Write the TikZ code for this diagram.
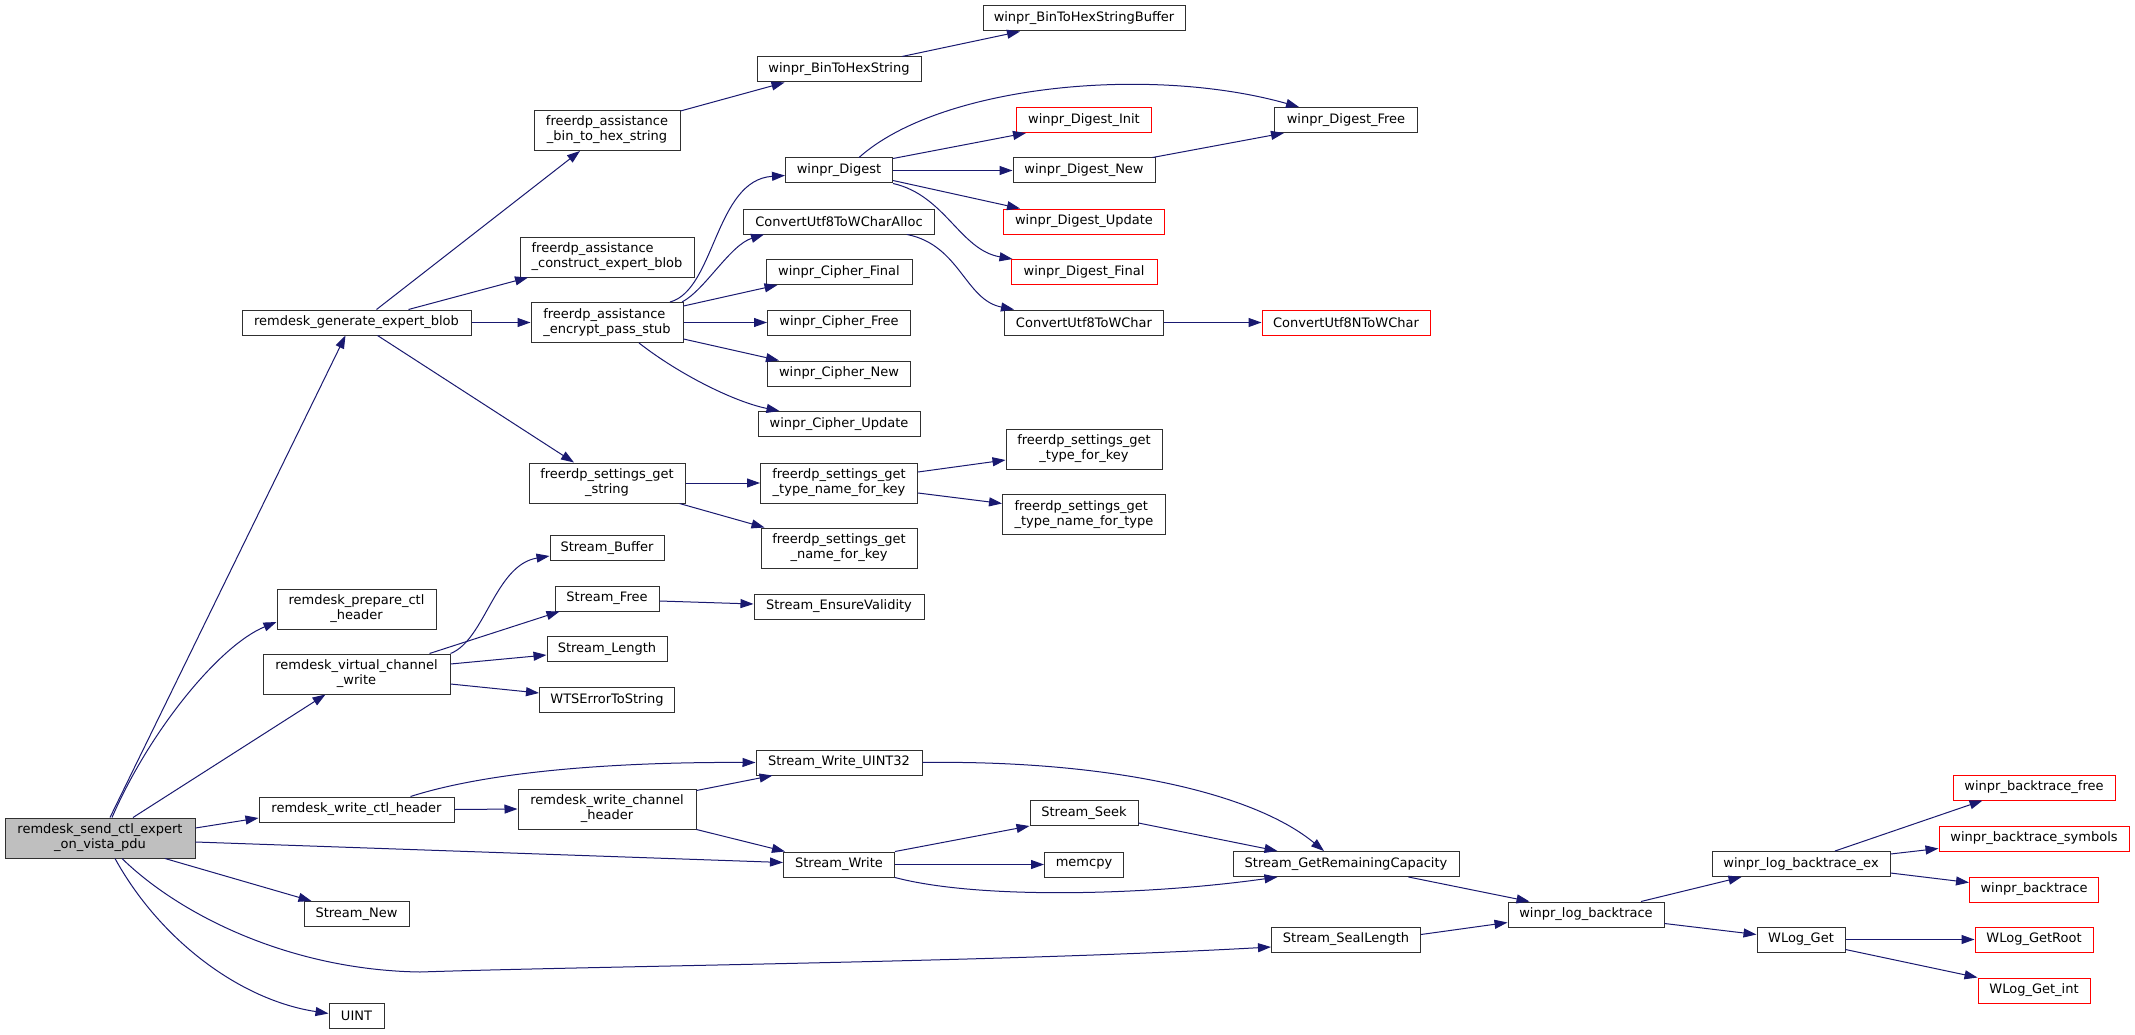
\documentclass[tikz,border=0pt]{standalone}
\usepackage{fontspec}
\setmainfont{DejaVu Sans}
\usetikzlibrary{arrows.meta,calc}
\definecolor{eblue}{RGB}{25,25,112}
\definecolor{focusgray}{RGB}{191,191,191}
\definecolor{nodeborder}{RGB}{48,48,48}
\newcommand\fnfont{\fontsize{13}{15}\selectfont}
\newcommand\twol[2]{\begin{tabular}{@{}l@{}}#1\\\multicolumn{1}{@{}c@{}}{#2}\end{tabular}}
\begin{document}
\begin{tikzpicture}[x=1pt,y=-1pt,
  fn/.style={draw=nodeborder, line width=1pt, fill=white, inner sep=0pt, font=\fnfont, minimum height=25pt},
  fntwo/.style={fn, minimum height=40pt},
  trunc/.style={draw=red},
  focus/.style={fill=focusgray},
  edgeln/.style={draw=eblue, line width=1pt, -{Triangle[length=13pt,width=9pt]}}]
\useasboundingbox[fill=white] (0,0) rectangle (2135,1035);

% column 1
\node[fntwo, focus, minimum width=190pt] (main) at (100,838) {\twol{remdesk\_send\_ctl\_expert}{\_on\_vista\_pdu}};
% column 2
\node[fn, minimum width=229pt] (gen) at (356.5,322.5) {remdesk\_generate\_expert\_blob};
\node[fntwo, minimum width=159pt] (prep) at (356.5,609) {\twol{remdesk\_prepare\_ctl}{\_header}};
\node[fntwo, minimum width=187pt] (vcw) at (356.5,674) {\twol{remdesk\_virtual\_channel}{\_write}};
\node[fn, minimum width=195pt] (wch) at (356.5,809.5) {remdesk\_write\_ctl\_header};
\node[fn, minimum width=105pt] (snew) at (356.5,914) {Stream\_New};
\node[fn, minimum width=55pt] (uint) at (356.5,1015.5) {UINT};
% column 3
\node[fntwo, minimum width=146pt] (b2h) at (607,130.5) {\twol{freerdp\_assistance}{\_bin\_to\_hex\_string}};
\node[fntwo, minimum width=174pt] (cons) at (607,257) {\twol{freerdp\_assistance}{\_construct\_expert\_blob}};
\node[fntwo, minimum width=152pt] (enc) at (607,322.5) {\twol{freerdp\_assistance}{\_encrypt\_pass\_stub}};
\node[fntwo, minimum width=156pt] (sgs) at (607,483) {\twol{freerdp\_settings\_get}{\_string}};
\node[fn, minimum width=114pt] (sbuf) at (607,548) {Stream\_Buffer};
\node[fn, minimum width=104pt] (sfree) at (607,598.5) {Stream\_Free};
\node[fn, minimum width=120pt] (slen) at (607,649) {Stream\_Length};
\node[fn, minimum width=135pt] (wts) at (607,700) {WTSErrorToString};
\node[fntwo, minimum width=178pt] (wchan) at (607,809) {\twol{remdesk\_write\_channel}{\_header}};
% column 4
\node[fn, minimum width=164pt] (b2hs) at (839,69.5) {winpr\_BinToHexString};
\node[fn, minimum width=107pt] (dig) at (839,170.5) {winpr\_Digest};
\node[fn, minimum width=191pt] (alloc) at (839,221.5) {ConvertUtf8ToWCharAlloc};
\node[fn, minimum width=146pt] (cfin) at (839,272) {winpr\_Cipher\_Final};
\node[fn, minimum width=143pt] (cfree) at (839,322.5) {winpr\_Cipher\_Free};
\node[fn, minimum width=143pt] (cnew) at (839,373.5) {winpr\_Cipher\_New};
\node[fn, minimum width=162pt] (cupd) at (839,424) {winpr\_Cipher\_Update};
\node[fntwo, minimum width=157pt] (tnk) at (839,483) {\twol{freerdp\_settings\_get}{\_type\_name\_for\_key}};
\node[fntwo, minimum width=156pt] (nfk) at (839,548) {\twol{freerdp\_settings\_get}{\_name\_for\_key}};
\node[fn, minimum width=170pt] (sev) at (839,606.5) {Stream\_EnsureValidity};
\node[fn, minimum width=166pt] (swu) at (839,762.5) {Stream\_Write\_UINT32};
\node[fn, minimum width=111pt] (sw) at (839,864.5) {Stream\_Write};
% column 5
\node[fn, minimum width=202pt] (b2hsb) at (1084,18.5) {winpr\_BinToHexStringBuffer};
\node[fn, trunc, minimum width=135pt] (dinit) at (1084,120) {winpr\_Digest\_Init};
\node[fn, minimum width=142pt] (dnew) at (1084,170.5) {winpr\_Digest\_New};
\node[fn, trunc, minimum width=161pt] (dupd) at (1084,221.5) {winpr\_Digest\_Update};
\node[fn, trunc, minimum width=146pt] (dfin) at (1084,272) {winpr\_Digest\_Final};
\node[fn, minimum width=159pt] (cu8) at (1084,322.5) {ConvertUtf8ToWChar};
\node[fntwo, minimum width=156pt] (tfk) at (1084,449) {\twol{freerdp\_settings\_get}{\_type\_for\_key}};
\node[fntwo, minimum width=163pt] (tnt) at (1084,514.5) {\twol{freerdp\_settings\_get}{\_type\_name\_for\_type}};
\node[fn, minimum width=108pt] (seek) at (1084,813) {Stream\_Seek};
\node[fn, minimum width=79pt] (memcpy) at (1084,864.5) {memcpy};
% column 6
\node[fn, minimum width=143pt] (dfree) at (1346,120) {winpr\_Digest\_Free};
\node[fn, trunc, minimum width=168pt] (cn8) at (1346,322.5) {ConvertUtf8NToWChar};
\node[fn, minimum width=226pt] (grc) at (1346,864) {Stream\_GetRemainingCapacity};
\node[fn, minimum width=149pt] (seal) at (1346,939.5) {Stream\_SealLength};
% columns 7-9
\node[fn, minimum width=156pt] (wlb) at (1586,914.5) {winpr\_log\_backtrace};
\node[fn, minimum width=178pt] (wlbe) at (1801,864) {winpr\_log\_backtrace\_ex};
\node[fn, minimum width=88pt] (wlg) at (1801,939.5) {WLog\_Get};
\node[fn, trunc, minimum width=162pt] (btf) at (2034,787.5) {winpr\_backtrace\_free};
\node[fn, trunc, minimum width=190pt] (bts) at (2034,838.5) {winpr\_backtrace\_symbols};
\node[fn, trunc, minimum width=129pt] (bt) at (2034,889.5) {winpr\_backtrace};
\node[fn, trunc, minimum width=118pt] (grt) at (2034,939.5) {WLog\_GetRoot};
\node[fn, trunc, minimum width=112pt] (gint) at (2034,990.5) {WLog\_Get\_int};

% edges from main
\draw[edgeln] ($(main.north)+(10,0)$) -- ($(gen.south)+(-11,0)$);
\draw[edgeln] ($(main.north)+(12,0)$) .. controls (150,730) and (220,645) .. ($(prep.west)+(0,13)$);
\draw[edgeln] ($(main.north)+(33,0)$) -- ($(vcw.south)+(-31,0)$);
\draw[edgeln] ($(main.east)+(0,-10)$) -- ($(wch.west)+(0,8.5)$);
\draw[edgeln] ($(main.east)+(0,4)$) -- ($(sw.west)+(0,-2)$);
\draw[edgeln] ($(main.south)+(65,0)$) -- ($(snew.north)+(-45,0)$);
\draw[edgeln] ($(main.south)+(22,0)$) .. controls (180,915) and (290,970) .. (420,972)
   .. controls (600,966) and (1000,962) .. ($(seal.west)+(0,7.5)$);
\draw[edgeln] ($(main.south)+(15,0)$) .. controls (160,940) and (240,1000) .. ($(uint.west)+(0,-2)$);
% edges from generate_expert_blob
\draw[edgeln] ($(gen.north)+(20,0)$) -- ($(b2h.south)+(-27,0)$);
\draw[edgeln] ($(gen.north)+(52,0)$) -- ($(cons.south)+(-79,0)$);
\draw[edgeln] (gen.east) -- (enc.west);
\draw[edgeln] ($(gen.south)+(21,0)$) -- ($(sgs.north)+(-33,0)$);
% bin to hex
\draw[edgeln] ($(b2h.north east)+(0,1)$) -- ($(b2hs.south west)+(28,0)$);
\draw[edgeln] ($(b2hs.north)+(63,0)$) -- ($(b2hsb.south)+(-64,0)$);
% encrypt pass stub
\draw[edgeln] ($(enc.north)+(63,0)$) .. controls (715,290) and (715,180) .. ($(dig.west)+(0,5)$);
\draw[edgeln] ($(enc.north)+(75,0)$) .. controls (705,290) and (730,245) .. ($(alloc.south west)+(21,0)$);
\draw[edgeln] ($(enc.north east)+(0,4)$) -- ($(cfin.south west)+(12,0)$);
\draw[edgeln] (enc.east) -- (cfree.west);
\draw[edgeln] ($(enc.south east)+(0,-4)$) -- ($(cnew.north west)+(12,0)$);
\draw[edgeln] ($(enc.south)+(32,0)$) .. controls (680,375) and (735,402) .. ($(cupd.north west)+(22,0)$);
% digest
\draw[edgeln] ($(dig.north)+(20,0)$) .. controls (940,85) and (1150,65) .. ($(dfree.north west)+(25,0)$);
\draw[edgeln] ($(dig.north east)+(0,1)$) -- ($(dinit.south west)+(10,0)$);
\draw[edgeln] (dig.east) -- (dnew.west);
\draw[edgeln] ($(dig.east)+(0,10)$) -- ($(dupd.north west)+(17,0)$);
\draw[edgeln] (dig.south east) .. controls (945,195) and (960,250) .. ($(dfin.north west)+(2,0)$);
\draw[edgeln] ($(dnew.north east)+(-3,0)$) -- ($(dfree.south west)+(10,0)$);
% utf8
\draw[edgeln] ($(alloc.south)+(68,0)$) .. controls (960,245) and (965,300) .. ($(cu8.north west)+(10,0)$);
\draw[edgeln] (cu8.east) -- (cn8.west);
% settings
\draw[edgeln] (sgs.east) -- (tnk.west);
\draw[edgeln] ($(sgs.south east)+(-6,0)$) -- ($(nfk.north west)+(4,0)$);
\draw[edgeln] ($(tnk.east)+(0,-11)$) -- ($(tfk.west)+(0,11)$);
\draw[edgeln] ($(tnk.east)+(0,10)$) -- ($(tnt.west)+(0,-11)$);
% virtual channel write
\draw[edgeln] (vcw.north east) .. controls (485,640) and (495,565) .. ($(sbuf.west)+(0,8)$);
\draw[edgeln] ($(vcw.north)+(73,0)$) -- ($(sfree.south west)+(5,0)$);
\draw[edgeln] ($(vcw.east)+(0,-10)$) -- ($(slen.west)+(0,6)$);
\draw[edgeln] ($(vcw.east)+(0,10)$) -- ($(wts.west)+(0,-7)$);
\draw[edgeln] ($(sfree.east)+(0,2.5)$) -- ($(sev.west)+(0,-2.5)$);
% write ctl header
\draw[edgeln] ($(wch.north)+(54,0)$) .. controls (500,768) and (640,762) .. (swu.west);
\draw[edgeln] (wch.east) -- (wchan.west);
\draw[edgeln] ($(wchan.north east)+(0,2)$) -- ($(swu.south west)+(17,0)$);
\draw[edgeln] (wchan.south east) -- ($(sw.north west)+(2,0)$);
% stream write
\draw[edgeln] (sw.north east) -- (seek.south west);
\draw[edgeln] (sw.east) -- (memcpy.west);
\draw[edgeln] (sw.south east) .. controls (980,900) and (1150,895) .. ($(grc.south west)+(45,0)$);
\draw[edgeln] ($(seek.east)+(0,10)$) -- ($(grc.north west)+(45,0)$);
\draw[edgeln] (swu.east) .. controls (1100,760) and (1250,790) .. ($(grc.north)+(-22,0)$);
% backtrace
\draw[edgeln] ($(grc.south east)+(-51,0)$) -- ($(wlb.north west)+(22,0)$);
\draw[edgeln] ($(seal.east)+(0,-5)$) -- ($(wlb.west)+(0,8)$);
\draw[edgeln] ($(wlb.north)+(55,0)$) -- ($(wlbe.south west)+(30,0)$);
\draw[edgeln] ($(wlb.east)+(0,9)$) -- ($(wlg.west)+(0,-5)$);
\draw[edgeln] ($(wlbe.north)+(34,0)$) -- ($(btf.south west)+(30,0)$);
\draw[edgeln] ($(wlbe.north east)+(0,3)$) -- ($(bts.west)+(0,10)$);
\draw[edgeln] ($(wlbe.east)+(0,9)$) -- ($(bt.west)+(0,-7)$);
\draw[edgeln] (wlg.east) -- (grt.west);
\draw[edgeln] ($(wlg.east)+(0,10)$) -- (gint.north west);
\end{tikzpicture}
\end{document}
